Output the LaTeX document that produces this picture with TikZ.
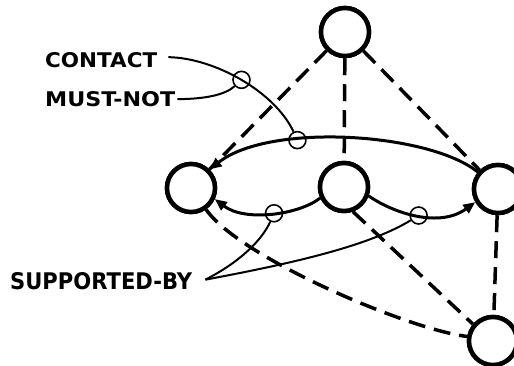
\documentclass[tikz,border=0pt]{standalone}
\usepackage{fontspec}
\newfontfamily\labfont{DejaVu Sans}
\usetikzlibrary{arrows.meta}
\begin{document}
\begin{tikzpicture}[x=1pt,y=-1pt,
  obj/.style={circle,draw,line width=4.5pt,minimum size=48pt,inner sep=0pt,fill=white},
  sc/.style={circle,draw,line width=1.6pt,minimum size=17pt,inner sep=0pt},
  rel/.style={line width=3pt},
  tipend/.style={-{Triangle[length=12pt,width=10pt]}},
  dsh/.style={line width=3.5pt,dash pattern=on 17pt off 9pt},
  lead/.style={line width=2pt},
  lab/.style={inner sep=0pt,anchor=south west}]
\useasboundingbox (0,0) rectangle (514,366);
\clip (0,0) rectangle (514,366);
% object nodes
\node[obj] (T) at (345,32) {};
\node[obj] (L) at (191,188) {};
\node[obj] (M) at (344,187) {};
\node[obj] (R) at (498,189) {};
\node[obj] (B) at (493,341) {};
% dashed links
\draw[dsh] (T) -- (L);
\draw[dsh] (T) -- (M);
\draw[dsh] (T) -- (R);
\draw[dsh] (R) -- (B);
\draw[dsh] (M.-70) -- (B.140);
\draw[dsh] (L.-55) .. controls (240,258) and (410,330) .. (B.170);
% relation arcs
\draw[rel,tipend] (R.140) .. controls (430,133) and (270,122) .. node[sc,pos=0.66,draw=none] (s1) {} (L.45);
\draw[rel,tipend] (M.205) .. controls (298,215) and (245,222) .. node[sc,pos=0.47,draw=none] (s2) {} (L.-25);
\draw[rel,tipend] (M.-20) .. controls (395,214) and (440,228) .. node[sc,pos=0.5,draw=none] (s3) {} (R.210);
\node[sc] at (s1) {};
\node[sc] at (s2) {};
\node[sc] at (s3) {};
% redraw nodes on top
\node[obj] at (T) {};
\node[obj] at (L) {};
\node[obj] at (M) {};
\node[obj] at (R) {};
\node[obj] at (B) {};
% labels
\node[lab] (ctext) at (45,68) {\resizebox{112pt}{15pt}{\labfont\bfseries CONTACT}};
\node[lab] (mtext) at (45,107) {\resizebox{130pt}{15pt}{\labfont\bfseries MUST-NOT}};
\node[lab] (stext) at (10,290) {\resizebox{182pt}{17pt}{\labfont\bfseries SUPPORTED-BY}};
% leaders
\draw[lead] ([xshift=11pt,yshift=3pt]ctext.east) .. controls (215,58) and (275,92) .. node[sc,pos=0.5] (s0) {} (s1);
\draw[lead] ([xshift=2pt]mtext.east) .. controls (205,99) and (225,95) .. (s0);
\draw[lead] ([xshift=13pt,yshift=1.5pt]stext.east) .. controls (240,262) and (262,240) .. (s2);
\draw[lead] ([xshift=13pt,yshift=1.5pt]stext.east) .. controls (300,262) and (370,245) .. (s3);
\end{tikzpicture}
\end{document}
